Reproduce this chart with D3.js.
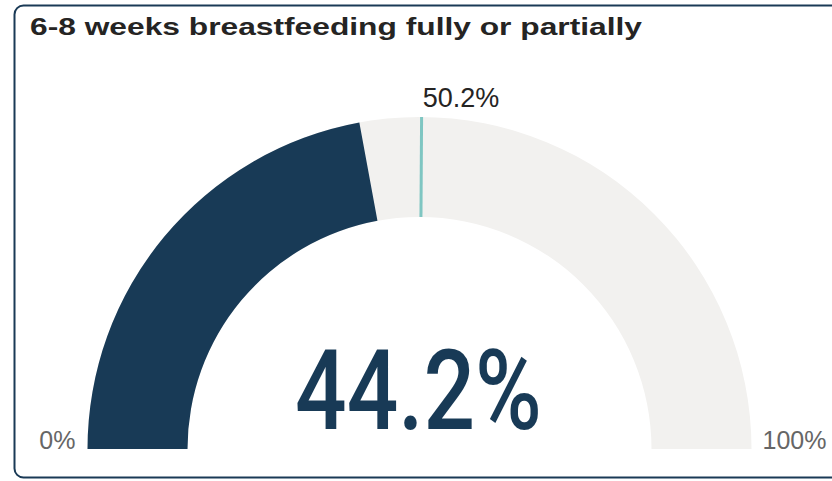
<!DOCTYPE html>
<html>
<head>
<meta charset="utf-8">
<script src="https://cdn.jsdelivr.net/npm/d3@7"></script>
<style>
  body { margin: 0; background: #fff; }
  svg { display: block; }
</style>
</head>
<body>
<script>
var width = 832, height = 481

var title = "6-8 weeks breastfeeding fully or partially"
var gaugeMin = [0]
var gaugeMax = [100]
var gaugeValue = [44.2]
var gaugeTarget = [50.2]

var svg = d3.select("body").append("svg")
    .attr("width", width)
    .attr("height", height)

// card border
svg.append("rect")
    .attr("x", 14.5)
    .attr("y", 5.5)
    .attr("width", 840)
    .attr("height", 472)
    .attr("rx", 9)
    .attr("fill", "#fff")
    .attr("stroke", "#1a3a56")
    .attr("stroke-width", 2)

svg.append("text")
    .attr("x", 30)
    .attr("y", 34.5)
    .attr("font-family", "Liberation Sans, Arial, sans-serif")
    .attr("font-weight", "bold")
    .attr("font-size", 24.5)
    .attr("textLength", 612)
    .attr("lengthAdjust", "spacingAndGlyphs")
    .attr("fill", "#252423")
    .text(title)

var cx = 419.5, cy = 449,
    outerR = 332, innerR = 232

var angle = d3.scaleLinear()
    .domain([gaugeMin[0], gaugeMax[0]])
    .range([-Math.PI / 2, Math.PI / 2])

var arc = d3.arc()
    .innerRadius(innerR)
    .outerRadius(outerR)

var g = svg.append("g")
    .attr("transform", "translate(" + cx + "," + cy + ")")

g.append("path")
    .attr("d", arc({startAngle: angle(gaugeMin[0]), endAngle: angle(gaugeMax[0])}))
    .attr("fill", "#f2f1ef")

g.append("path")
    .attr("d", arc({startAngle: angle(gaugeMin[0]), endAngle: angle(gaugeValue[0])}))
    .attr("fill", "#183a56")

// target marker
var ta = angle(gaugeTarget[0])
g.append("line")
    .attr("x1", innerR * Math.sin(ta))
    .attr("y1", -innerR * Math.cos(ta))
    .attr("x2", outerR * Math.sin(ta))
    .attr("y2", -outerR * Math.cos(ta))
    .attr("stroke", "#7fc6c2")
    .attr("stroke-width", 3)

g.append("text")
    .attr("x", (outerR + 10) * Math.sin(ta) + 1)
    .attr("y", -(outerR + 10) * Math.cos(ta))
    .attr("font-family", "Liberation Sans, Arial, sans-serif")
    .attr("font-size", 27)
    .attr("fill", "#252423")
    .text(d3.format(".1f")(gaugeTarget[0]) + "%")

g.append("text")
    .attr("x", -outerR - 12)
    .attr("y", 0)
    .attr("text-anchor", "end")
    .attr("font-family", "Liberation Sans, Arial, sans-serif")
    .attr("font-size", 25)
    .attr("fill", "#666")
    .text(gaugeMin[0] + "%")

g.append("text")
    .attr("x", outerR + 11)
    .attr("y", 0)
    .attr("font-family", "Liberation Sans, Arial, sans-serif")
    .attr("font-size", 25)
    .attr("fill", "#666")
    .text(gaugeMax[0] + "%")

g.append("text")
    .attr("x", -1)
    .attr("y", -20)
    .attr("text-anchor", "middle")
    .attr("font-family", "Roboto, sans-serif")
    .attr("font-weight", 500)
    .attr("font-size", 112)
    .attr("textLength", 247)
    .attr("lengthAdjust", "spacingAndGlyphs")
    .attr("fill", "#183a56")
    .text(d3.format(".1f")(gaugeValue[0]) + "%")
</script>
</body>
</html>
